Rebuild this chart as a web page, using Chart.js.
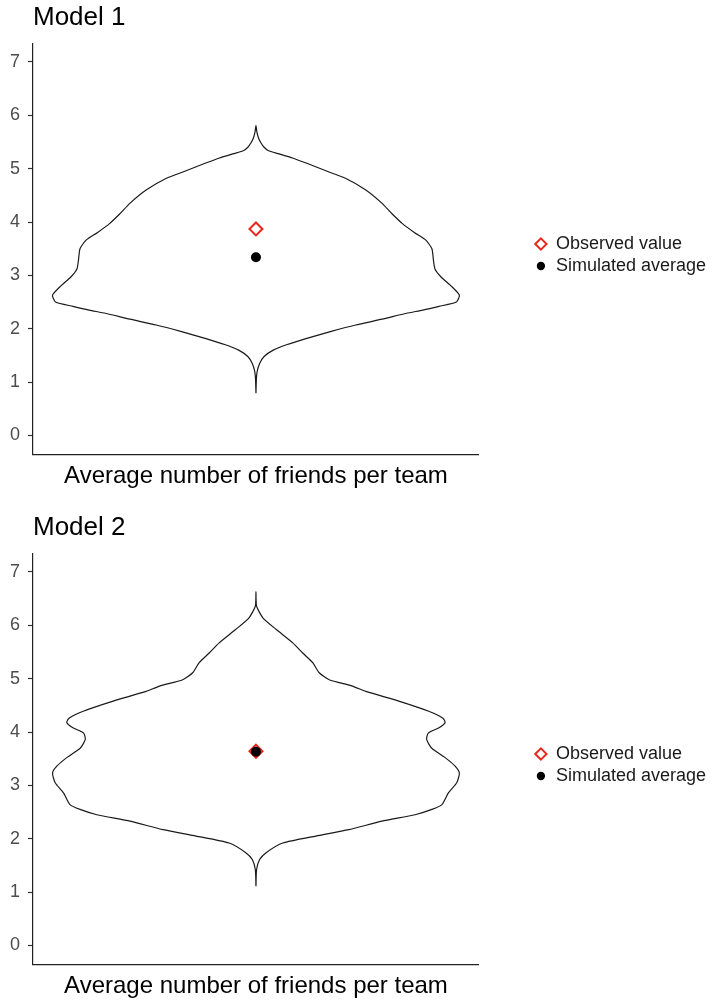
<!DOCTYPE html>
<html>
<head>
<meta charset="utf-8">
<script src="https://cdn.jsdelivr.net/npm/chart.js@4.4.0/dist/chart.umd.min.js"></script>
<style>
  html, body { margin: 0; padding: 0; background: #fff; overflow: hidden; }
  canvas { display: block; }
</style>
</head>
<body>
<canvas id="model1" width="716" height="510"></canvas>
<canvas id="model2" width="716" height="510"></canvas>
<script>
// violin outlines: y value (top -> bottom) and relative width (1 = widest point)
const violin1Y = [5.81, 5.70, 5.58, 5.48, 5.40, 5.34, 5.28, 5.20, 5.10, 4.95, 4.82, 4.60, 4.35, 4.15, 3.97, 3.80, 3.66, 3.50, 3.30, 3.12, 2.97, 2.80, 2.63, 2.50, 2.42, 2.35, 2.29, 2.18, 2.07, 1.95, 1.82, 1.70, 1.60, 1.48, 1.35, 1.20, 1.05, 0.79];
const violin1W = [0, 0.004, 0.012, 0.025, 0.04, 0.06, 0.11, 0.18, 0.25, 0.35, 0.44, 0.54, 0.62, 0.67, 0.72, 0.78, 0.835, 0.865, 0.872, 0.88, 0.91, 0.96, 1.0, 0.985, 0.90, 0.82, 0.74, 0.62, 0.49, 0.37, 0.25, 0.15, 0.085, 0.04, 0.018, 0.006, 0.002, 0];

const violin2Y = [6.63, 6.36, 6.14, 5.92, 5.67, 5.48, 5.30, 5.11, 4.98, 4.86, 4.76, 4.58, 4.39, 4.26, 4.18, 4.08, 3.98, 3.86, 3.70, 3.52, 3.36, 3.23, 3.05, 2.86, 2.64, 2.55, 2.45, 2.33, 2.17, 2.05, 1.92, 1.74, 1.61, 1.42, 1.11];
const violin2W = [0, 0.003, 0.034, 0.10, 0.181, 0.23, 0.279, 0.311, 0.36, 0.474, 0.54, 0.702, 0.849, 0.919, 0.93, 0.90, 0.847, 0.839, 0.863, 0.93, 0.979, 1.0, 0.987, 0.946, 0.914, 0.865, 0.782, 0.619, 0.456, 0.295, 0.132, 0.05, 0.018, 0.003, 0];

const observedVals = [3.87, 3.64];
const simulatedVals = [3.34, 3.63];
const panelTitles = ['Model 1', 'Model 2'];
const yTicks = [0, 1, 2, 3, 4, 5, 6, 7];
const xTitle = 'Average number of friends per team';
const legendNames = ['Observed value', 'Simulated average'];

const FONT = "'Liberation Sans', Arial, sans-serif";
const RED = 'rgb(232, 40, 28)';

// closed path: up the right side, down the left side
function outline(ys, ws) {
  var pts = [];
  for (var i = ys.length - 1; i >= 0; i--) pts.push({x: ws[i], y: ys[i]});
  for (var j = 1; j < ys.length; j++) pts.push({x: -ws[j], y: ys[j]});
  return pts;
}

function makeChart(id, k, ys, ws) {
  var config = {
    type: 'scatter',
    data: {
      datasets: [
        {
          label: 'violin',
          data: outline(ys, ws),
          showLine: true,
          borderColor: '#1a1a1a',
          borderWidth: 1.2,
          pointRadius: 0,
          tension: 0.2,
          fill: false,
          order: 3
        },
        {
          label: legendNames[0],
          data: [{x: 0, y: observedVals[k]}],
          pointStyle: 'rectRot',
          pointRadius: 6.5,
          borderColor: RED,
          backgroundColor: 'rgba(0,0,0,0)',
          borderWidth: 2,
          order: 2
        },
        {
          label: legendNames[1],
          data: [{x: 0, y: simulatedVals[k]}],
          pointStyle: 'circle',
          pointRadius: 5,
          backgroundColor: '#000',
          borderColor: '#000',
          borderWidth: 0,
          order: 1
        }
      ]
    },
    options: {
      responsive: false,
      animation: false,
      layout: { padding: 0 },
      plugins: {
        tooltip: { enabled: false },
        title: {
          display: true,
          text: panelTitles[k],
          align: 'start',
          fullSize: false,
          color: '#000',
          font: { family: FONT, size: 26, weight: 'normal' },
          padding: { top: 2, bottom: 10 }
        },
        legend: {
          position: 'right',
          maxWidth: 300,
          labels: {
            usePointStyle: true,
            boxWidth: 12,
            boxHeight: 8,
            padding: 4,
            color: '#1a1a1a',
            font: { family: FONT, size: 18 },
            filter: function(item) { return item.text !== 'violin'; },
            sort: function(a, b) { return a.datasetIndex - b.datasetIndex; },
            generateLabels: function(chart) {
              var items = Chart.defaults.plugins.legend.labels.generateLabels(chart);
              items.forEach(function(it) {
                // shrink the legend dot a little
                if (it.pointStyle === 'circle') { it.strokeStyle = '#fff'; it.lineWidth = 3; }
              });
              return items;
            }
          }
        }
      },
      scales: {
        x: {
          type: 'linear',
          min: -1.096,
          max: 1.096,
          ticks: { display: false },
          grid: { display: false, drawTicks: false },
          border: { display: true, color: '#222', width: 1.2 },
          title: {
            display: true,
            text: xTitle,
            color: '#000',
            font: { family: FONT, size: 24 },
            padding: { top: 8, bottom: 19 }
          }
        },
        y: {
          type: 'linear',
          min: -0.35,
          max: 7.35,
          afterBuildTicks: function(scale) {
            scale.ticks = yTicks.map(function(v) { return {value: v}; });
          },
          afterFit: function(scale) { scale.width = 33; },
          ticks: {
            color: '#4d4d4d',
            padding: 8,
            font: { family: FONT, size: 18 }
          },
          grid: {
            drawOnChartArea: false,
            drawTicks: true,
            tickLength: 5,
            tickColor: '#333',
            tickWidth: 1.2
          },
          border: { display: true, color: '#222', width: 1.2 }
        },
        gap: {
          type: 'linear',
          position: 'right',
          display: true,
          ticks: { display: false },
          grid: { display: false },
          border: { display: false },
          afterFit: function(scale) { scale.width = 52; }
        }
      }
    }
  };
  return new Chart(document.getElementById(id), config);
}

makeChart('model1', 0, violin1Y, violin1W);
makeChart('model2', 1, violin2Y, violin2W);
</script>
</body>
</html>
